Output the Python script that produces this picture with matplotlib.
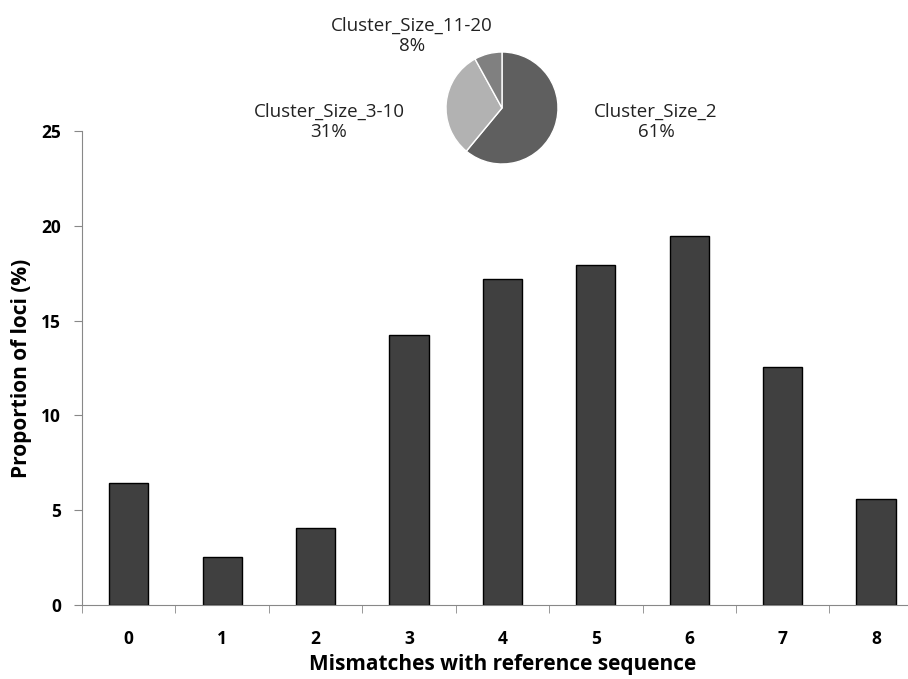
import matplotlib
matplotlib.use("Agg")
import matplotlib.pyplot as plt
import numpy as np

# Balkendaten
mismatches = ["0", "1", "2", "3", "4", "5", "6", "7", "8"]
proportion = [6.43, 2.53, 4.06, 14.24, 17.22, 17.93, 19.45, 12.55, 5.59]

# Kreisdiagramm
cluster_labels = ["Cluster_Size_2", "Cluster_Size_3-10", "Cluster_Size_11-20"]
cluster_share = [61, 31, 8]
cluster_colors = ["#5f5f5f", "#b2b2b2", "#808080"]

plt.rcParams["font.family"] = ["Open Sans", "DejaVu Sans"]

W, H = 908, 679
fig = plt.figure(figsize=(W / 100, H / 100), dpi=100)

# Hauptachse (rechtes Ende läuft über den Bildrand hinaus wie im Original)
x0, x1, y0, y1 = 82, 922.75, 605, 131
ax = fig.add_axes([x0 / W, 1 - y0 / H, (x1 - x0) / W, (y0 - y1) / H])
xpos = np.arange(len(mismatches))
ax.bar(xpos, proportion, width=0.42, color="#404040", edgecolor="black", linewidth=1)
ax.set_xlim(-0.5, len(mismatches) - 0.5)
ax.set_ylim(0, 25)
ax.set_yticks(range(0, 26, 5))
ax.set_yticklabels([str(v) for v in range(0, 26, 5)], fontsize=12.5, fontweight="bold")
ax.set_xticks(xpos)
ax.set_xticklabels(mismatches, fontsize=12.5, fontweight="bold")
ax.set_xticks(np.arange(-0.5, len(mismatches)), minor=True)
ax.tick_params(axis="x", which="major", length=0, pad=18)
ax.tick_params(axis="x", which="minor", length=6, direction="out", color="#888888")
ax.tick_params(axis="y", length=6, direction="out", color="#888888", pad=9)
for side in ["top", "right"]:
    ax.spines[side].set_visible(False)
for side in ["left", "bottom"]:
    ax.spines[side].set_color("#888888")
ax.set_xlabel("Mismatches with reference sequence", fontsize=15, fontweight="bold", labelpad=4)
ax.set_ylabel("Proportion of loci (%)", fontsize=15, fontweight="bold", labelpad=7)

# Kreisdiagramm oben
cx, cy, r = 502, 108, 70
pax = fig.add_axes([(cx - r) / W, 1 - (cy + r) / H, 2 * r / W, 2 * r / H])
pax.pie(cluster_share, colors=cluster_colors, startangle=90, counterclock=False,
        wedgeprops=dict(edgecolor="white", linewidth=1))
pax.set_aspect("equal")

label_px = [(656, 122), (329, 122), (412, 36)]
for name, share, (lx, ly) in zip(cluster_labels, cluster_share, label_px):
    fig.text(lx / W, 1 - ly / H, f"{name}\n{share}%", ha="center", va="center",
             fontsize=13.5, color="#222222", linespacing=1.2)

fig.savefig("out.png", dpi=100)
